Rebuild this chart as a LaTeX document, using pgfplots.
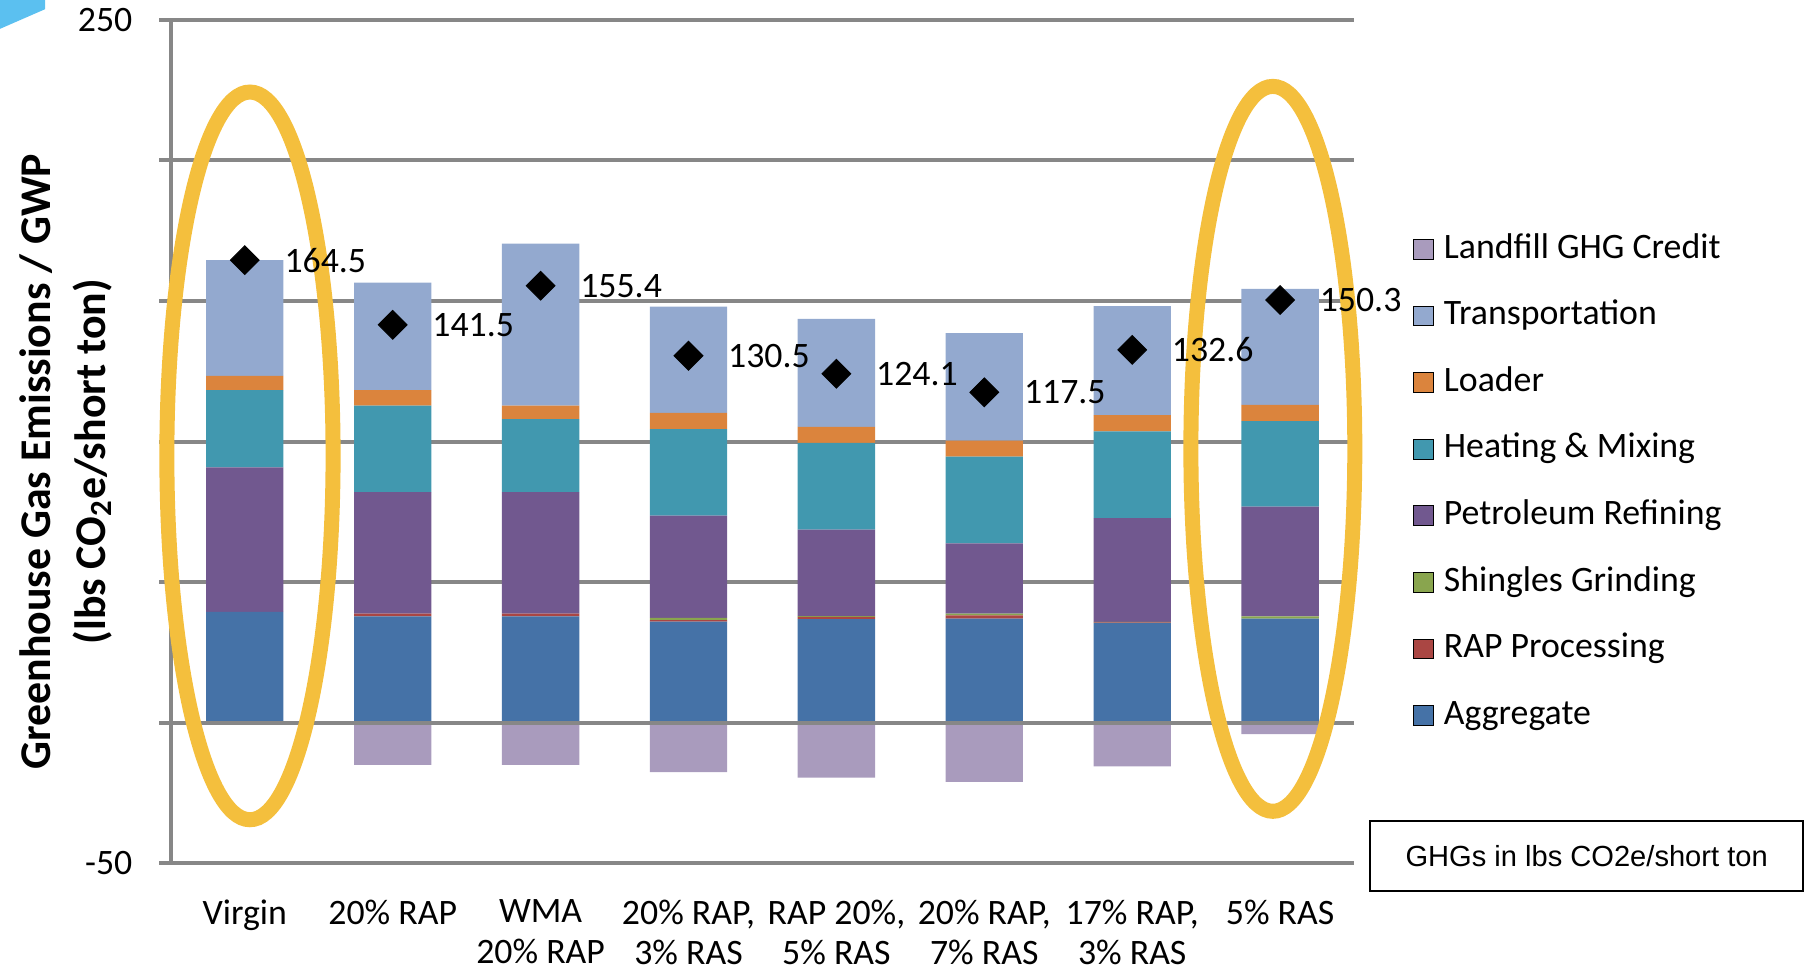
\documentclass[border=0pt]{standalone}
\usepackage{fontspec}
\setmainfont{Carlito}
\newfontfamily\arialfont{Liberation Sans}
\usepackage{pgfplots}
\usepackage{pgfplotstable}
\pgfplotsset{compat=1.18}

% Excel-style series colours
\definecolor{cAgg}{HTML}{4572A7}
\definecolor{cRAP}{HTML}{AA4643}
\definecolor{cShg}{HTML}{89A54E}
\definecolor{cPet}{HTML}{71588F}
\definecolor{cHeat}{HTML}{4198AF}
\definecolor{cLoad}{HTML}{DB843D}
\definecolor{cTrans}{HTML}{93A9CF}
\definecolor{cLand}{HTML}{A99BBD}
\definecolor{gridgray}{HTML}{878787}
\definecolor{ring}{HTML}{F4BF3D}
\definecolor{slideblue}{HTML}{5BC0F0}

% GHG contributions per mix (lbs CO2e / short ton); net = sum incl. landfill credit
\pgfplotstableread{
x agg  rap shg pet  heat load trans credit net
0 39.4 0.0 0.0 51.4 27.5 5.0 41.2   0.0  164.5
1 37.8 1.0 0.0 43.2 30.8 5.5 38.2 -15.0  141.5
2 37.8 1.0 0.0 43.2 26.0 4.8 57.6 -15.0  155.4
3 36.0 0.5 0.8 36.4 30.7 5.8 37.8 -17.5  130.5
4 36.9 0.8 0.2 30.8 30.8 5.7 38.4 -19.5  124.1
5 37.0 1.2 0.6 25.0 30.8 5.7 38.2 -21.0  117.5
6 35.5 0.2 0.2 36.9 30.8 5.8 38.7 -15.5  132.6
7 37.0 0.0 0.8 39.1 30.4 5.7 41.3  -4.0  150.3
}\ghg

\newcommand{\chartfont}{\fontsize{15.5}{18.5}\selectfont}

\begin{document}
\begin{tikzpicture}
\useasboundingbox (-74pt,-46.5pt) rectangle (710pt,374pt);

% slide decoration in the corner
\fill[slideblue] (-74pt,374pt) -- (-54.5pt,374pt) -- (-54.5pt,370pt) -- (-74pt,361.5pt) -- cycle;

\begin{axis}[
  name=main, at={(0,0)}, anchor=south west,
  scale only axis, width=512.5pt, height=365.5pt,
  xmin=-0.5, xmax=7.5, ymin=-50, ymax=250,
  ybar stacked, bar width=33.5pt,
  axis x line*=bottom, axis y line*=left,
  axis line style={-, draw=gridgray, line width=1.75pt},
  xtick={0,...,7},
  xticklabels={Virgin,{20\% RAP},{WMA\\20\% RAP},{20\% RAP,\\3\% RAS},{RAP 20\%,\\5\% RAS},{20\% RAP,\\7\% RAS},{17\% RAP,\\3\% RAS},{5\% RAS}},
  xticklabel style={align=center, font=\fontsize{15.5}{17.5}\selectfont, inner sep=0pt,
    text depth=0pt, anchor=north, yshift=-10.5pt},
  x tick style={draw=none},
  ytick={-50,0,50,100,150,200,250},
  yticklabels={-50,,,,,,250},
  yticklabel style={font=\chartfont, inner sep=0pt, anchor=east, xshift=-11.5pt},
  y tick style={draw=gridgray, line width=1.75pt},
  tick align=outside, major tick length=5pt,
  ymajorgrids, grid style={draw=gridgray, line width=1.75pt},
  /pgf/number format/assume math mode=true,
  legend style={at={(1.0498,0.7476)}, anchor=north west, draw=none, fill=none,
    inner sep=0pt, outer sep=0pt, row sep=14.35pt, column sep=4.5pt,
    font=\chartfont, nodes={inner sep=0pt, text height=11pt, text depth=3.5pt}},
  legend cell align=left,
  legend image code/.code={\fill[#1] (0pt,-4.25pt) rectangle (8.5pt,4.25pt);},
]
\addplot[fill=cAgg,   draw=none, forget plot] table[x=x, y=agg]   {\ghg};
\addplot[fill=cRAP,   draw=none, forget plot] table[x=x, y=rap]   {\ghg};
\addplot[fill=cShg,   draw=none, forget plot] table[x=x, y=shg]   {\ghg};
\addplot[fill=cPet,   draw=none, forget plot] table[x=x, y=pet]   {\ghg};
\addplot[fill=cHeat,  draw=none, forget plot] table[x=x, y=heat]  {\ghg};
\addplot[fill=cLoad,  draw=none, forget plot] table[x=x, y=load]  {\ghg};
\addplot[fill=cTrans, draw=none, forget plot] table[x=x, y=trans] {\ghg};

\addlegendimage{fill=cLand}  \addlegendentry{Landfill GHG Credit}
\addlegendimage{fill=cTrans} \addlegendentry{Transportation}
\addlegendimage{fill=cLoad}  \addlegendentry{Loader}
\addlegendimage{fill=cHeat}  \addlegendentry{Heating \& Mixing}
\addlegendimage{fill=cPet}   \addlegendentry{Petroleum Refining}
\addlegendimage{fill=cShg}   \addlegendentry{Shingles Grinding}
\addlegendimage{fill=cRAP}   \addlegendentry{RAP Processing}
\addlegendimage{fill=cAgg}   \addlegendentry{Aggregate}
\end{axis}

% credits below zero, net totals and highlight rings
\begin{axis}[
  at={(0,0)}, anchor=south west,
  scale only axis, width=512.5pt, height=365.5pt,
  xmin=-0.5, xmax=7.5, ymin=-50, ymax=250,
  hide axis, clip=false,
]
\addplot[ybar, bar width=33.5pt, bar shift=0pt, fill=cLand, draw=none] table[x=x, y=credit] {\ghg};
\draw[gridgray, line width=1.75pt] (axis cs:-0.5,0) -- (axis cs:7.5,0);
\addplot[only marks, mark=square*, mark size=4.4pt,
  mark options={rotate=45, fill=black, draw=black},
  point meta=explicit, nodes near coords,
  every node near coord/.append style={anchor=west, xshift=17pt, inner sep=0pt,
    font=\chartfont, text=black,
    /pgf/number format/.cd, fixed, precision=1, fixed zerofill, assume math mode=true},
] table[x=x, y=net, meta=net] {\ghg};
\draw[ring, line width=6.5pt] (axis cs:0.035,94.9) ellipse [x radius=36pt, y radius=157.6pt];
\draw[ring, line width=6.5pt] (axis cs:6.951,97.4) ellipse [x radius=35.5pt, y radius=157pt];
\end{axis}

% axis title
\node[rotate=90, align=center, font=\bfseries\fontsize{19}{24}\selectfont]
  at (-45.5pt,174pt) {Greenhouse Gas Emissions / GWP\\(lbs CO\textsubscript{2}e/short ton)};

% units note
\draw[black, line width=1pt] (519.5pt,-12pt) rectangle (707pt,18.5pt);
\node[font=\arialfont\fontsize{12.6}{14}\selectfont] at (613.25pt,3.25pt) {GHGs in lbs CO2e/short ton};
\end{tikzpicture}
\end{document}
